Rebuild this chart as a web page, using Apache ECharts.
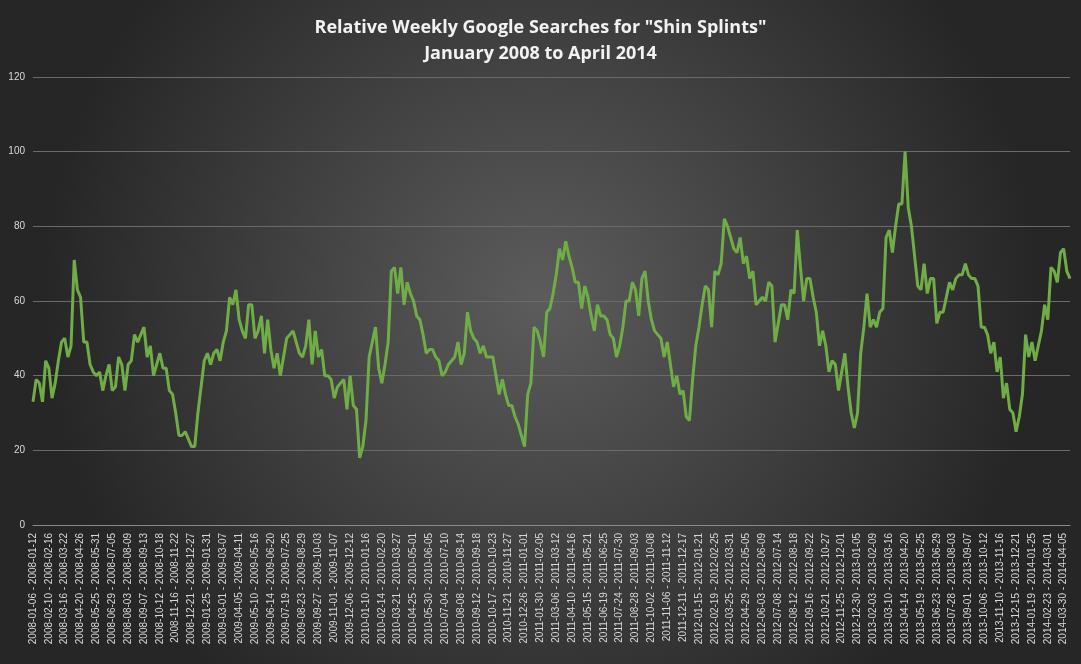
<!DOCTYPE html>
<html>
<head>
<meta charset="utf-8">
<script src="https://cdn.jsdelivr.net/npm/echarts@6/dist/echarts.min.js"></script>
<style>
html,body{margin:0;padding:0;background:#2b2b2b;}
#chart{width:1081px;height:664px;}
</style>
</head>
<body>
<div id="chart"></div>
<script>
// weekly values, first week starts 2008-01-06
var firstWeekStart = '2008-01-06';
var searches = [
33,39,38,33,44,42,34,38,44,49,50,45,48,71,63,61,49,49,43,41,40,41,36,40,43,36,37,45,43,36,43,44,51,49,51,53,45,48,40,43,46,42,42,36,35,30,24,24,25,23,21,21,30,37,44,
46,43,46,47,44,49,52,61,59,63,55,52,50,59,59,50,52,56,46,55,47,42,46,40,45,50,51,52,49,46,45,48,55,43,52,45,47,40,40,39,34,37,38,39,31,40,32,31,18,21,28,45,49,
53,42,38,43,49,68,69,62,69,59,65,62,60,56,55,51,46,47,47,45,44,40,41,43,44,45,49,43,46,57,52,50,49,46,48,45,45,45,40,35,39,35,32,32,29,27,24,21,35,38,53,52,49,45,57,
58,62,67,74,71,76,72,69,65,65,58,64,61,56,52,59,56,56,55,51,50,45,48,53,60,60,65,63,56,66,68,60,55,52,51,50,45,49,43,37,40,35,36,29,28,39,48,53,59,64,63,53,68,67,
70,82,80,77,74,73,77,70,72,66,68,59,60,61,60,65,64,49,54,59,59,55,63,62,79,69,60,66,66,61,57,48,52,48,41,44,43,36,41,46,37,30,26,30,46,53,62,53,55,53,57,58,77,79,
73,80,86,86,100,85,80,72,64,63,70,62,66,66,54,57,57,61,65,63,66,67,67,70,67,66,66,64,53,53,51,46,49,41,45,34,38,31,30,25,29,35,51,45,49,44,48,52,59,55,69,68,65,73,74,68,66
];
var yTicks = [0,20,40,60,80,100,120];

// category labels "start - end" for each week
function fmt(d){
	var m = d.getUTCMonth()+1, day = d.getUTCDate();
	return d.getUTCFullYear()+'-'+(m<10?'0':'')+m+'-'+(day<10?'0':'')+day;
}
var weekLabels = [];
var t0 = Date.parse(firstWeekStart+'T00:00:00Z');
for (var i=0;i<searches.length;i++){
	var s = new Date(t0+i*7*86400000), e = new Date(t0+(i*7+6)*86400000);
	weekLabels.push(fmt(s)+' - '+fmt(e));
}

var myChart = echarts.init(document.getElementById('chart'));
var option = {
	backgroundColor : {
		type:'radial', x:0.5, y:0.45, r:0.75,
		colorStops:[{offset:0,color:'#5c5c5c'},{offset:1,color:'#262626'}]
	},
	title : {
		text: 'Relative Weekly Google Searches for "Shin Splints"\nJanuary 2008 to April 2014',
		left:'center', top:10,
		textStyle:{color:'#f2f2f2',fontSize:18,fontWeight:'bold',fontFamily:'Open Sans',lineHeight:26}
	},
	grid : {left:33, right:11, top:77, bottom:139},
	xAxis : {
		type:'category',
		data:weekLabels,
		boundaryGap:false,
		axisLine:{lineStyle:{color:'#8a8a8a'}},
		axisTick:{show:false},
		axisLabel:{interval:4, rotate:90, color:'#d9d9d9', fontSize:10, fontFamily:'Liberation Sans'}
	},
	yAxis : {
		type:'value', min:yTicks[0], max:yTicks[yTicks.length-1], interval:20,
		axisLine:{show:false}, axisTick:{show:false},
		axisLabel:{color:'#d9d9d9', fontSize:10, fontFamily:'Liberation Sans'},
		splitLine:{lineStyle:{color:'#6a6a6a'}}
	},
	series : [{
		type:'line',
		data:searches,
		showSymbol:false,
		lineStyle:{color:'#70ad47', width:3},
		itemStyle:{color:'#70ad47'}
	}]
};
myChart.setOption(option);
</script>
</body>
</html>
